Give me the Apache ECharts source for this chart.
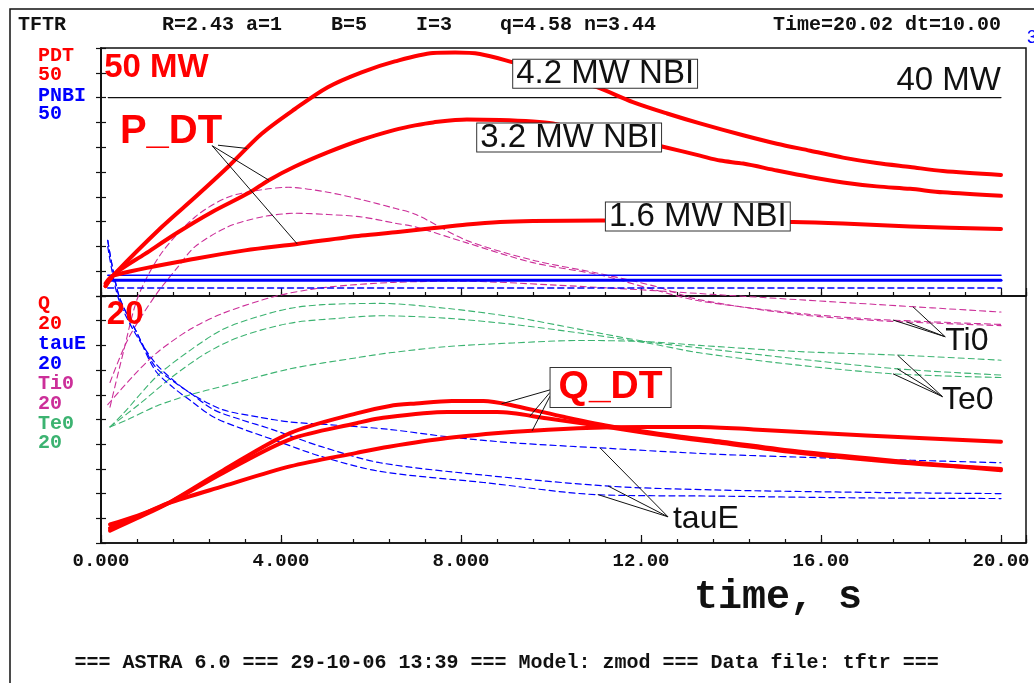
<!DOCTYPE html>
<html>
<head>
<meta charset="utf-8">
<script src="https://cdn.jsdelivr.net/npm/echarts@6/dist/echarts.min.js"></script>
<style>
  html, body { margin: 0; padding: 0; background: #ffffff; }
  #c { width: 1034px; height: 683px; }
</style>
</head>
<body>
<div id="c"></div>
<script>
// ---- time axis ----
const timeTickLabels = [0, 4, 8, 12, 16, 20];

// ---- upper panel (scale 50 MW): fusion power for the three NBI powers ----
const pdt42 = [[0.1,2.0],[0.31,4.5],[1.35,13.9],[2.09,19.9],[2.82,26.0],[3.57,32.7],[4.31,37.7],[5.04,42.1],[5.79,45.1],[6.53,47.3],[7.38,49.0],[7.87,49.1],[8.42,48.8],[9.16,47.1],[10.1,44.7],[11.02,42.1],[11.82,39.1],[12.58,36.8],[13.31,34.8],[14.27,32.4],[15.02,30.7],[15.76,29.3],[16.49,27.9],[17.24,26.8],[17.98,26.0],[18.71,25.2],[20,24.4]];
const pdt32 = [[0.1,2.0],[0.31,4.5],[0.98,8.5],[1.72,12.9],[2.46,16.9],[3.31,20.9],[3.72,23.3],[4.31,26.1],[5.05,29.0],[5.79,31.5],[6.53,33.5],[6.98,34.4],[7.38,35.0],[8.13,35.6],[8.87,35.5],[9.6,35.2],[10.04,34.8],[11.0,33.0],[12.0,31.2],[12.49,30.1],[13.31,28.3],[13.76,27.3],[14.27,26.7],[15.02,25.3],[15.76,24.0],[16.49,22.9],[17.24,22.1],[17.98,21.6],[18.71,20.9],[20,20.2]];
const pdt16 = [[0.1,2.5],[0.27,4.1],[2.09,7.5],[3.2,9.2],[4.36,10.5],[5.79,12.2],[6.6,12.9],[7.4,13.7],[8.13,14.4],[8.87,14.9],[9.6,15.1],[11.09,15.2],[13.0,15.1],[15.38,14.9],[16.49,14.6],[17.98,14.0],[20,13.5]];
// injected beam power (MW)
const pnbi42 = [[0.15,4.2],[20,4.2]];
const pnbi32 = [[0.15,3.2],[20,3.2]];
const pnbi16 = [[0.15,1.6],[20,1.6]];
const level40 = [[0.16,40],[20,40]];

// ---- lower panel (scale 20): Q, tauE, Ti0, Te0 ----
const q42 = [[0.2,1.0],[0.8,2.0],[1.48,3.2],[2.72,5.9],[4.2,8.9],[5.68,10.5],[6.42,11.1],[7.0,11.3],[7.8,11.5],[8.5,11.5],[9.2,11.1],[10.3,10.2],[11.4,9.4],[12.9,8.6],[13.8,8.2],[15.5,7.4],[17.8,6.6],[20,5.9]];
const q32 = [[0.2,1.5],[0.8,2.2],[1.48,3.2],[2.72,5.7],[4.2,8.4],[5.68,9.7],[6.2,10.1],[7.7,10.6],[8.8,10.6],[9.9,10.1],[11.4,9.3],[12.9,8.5],[13.8,8.1],[15.5,7.3],[17.8,6.5],[20,6.0]];
const q16 = [[0.2,1.2],[0.8,2.1],[1.48,3.2],[2.72,4.6],[4.2,6.2],[5.68,7.3],[6.4,7.8],[7.7,8.5],[9.2,9.0],[10.6,9.3],[12.1,9.4],[13.3,9.4],[14.5,9.2],[17.0,8.7],[20,8.2]];

const tauE1 = [[0.15,24.0],[0.37,20.0],[0.71,17.3],[1.2,14.6],[1.6,13.2],[2.0,12.1],[2.7,10.8],[3.5,10.2],[4.2,9.8],[5.0,9.6],[6.4,9.2],[7.7,8.6],[9.2,8.1],[11.1,7.7],[13.6,7.2],[16.0,6.9],[18.0,6.7],[20,6.5]];
const tauE2 = [[0.15,24.5],[0.4,20.0],[0.8,17.0],[1.2,14.3],[1.6,13.1],[2.0,12.1],[2.5,10.8],[3.1,10.0],[3.8,9.2],[4.9,7.8],[6.2,6.5],[8.5,5.5],[11.3,4.6],[13.6,4.3],[17.0,4.1],[20,4.0]];
const tauE3 = [[0.15,24.5],[0.4,20.0],[0.8,17.0],[1.2,14.0],[1.6,12.6],[2.0,11.5],[2.5,10.2],[3.1,9.3],[3.8,8.4],[4.9,7.0],[6.2,5.8],[8.5,4.9],[11.1,3.9],[13.6,3.8],[17.0,3.65],[20,3.6]];

const ti0a = [[0.2,11.0],[0.5,15.5],[0.83,20.0],[1.35,23.5],[2.09,26.4],[2.82,28.0],[3.57,28.6],[4.16,28.8],[5.04,28.4],[5.79,27.8],[6.53,27.1],[7.0,26.6],[8.13,24.5],[9.6,22.9],[11.1,21.8],[12.3,20.8],[13.3,19.7],[15.5,18.5],[17.3,18.0],[20,17.6]];
const ti0b = [[0.2,13.0],[0.6,16.5],[1.2,20.0],[1.72,22.4],[2.09,24.0],[2.82,25.6],[3.57,26.4],[4.31,26.7],[5.04,26.6],[5.79,26.4],[6.53,25.9],[6.98,25.6],[8.13,24.3],[9.6,22.7],[11.09,21.7],[12.2,20.6],[13.3,19.6],[15.5,18.6],[17.3,18.1],[20,17.7]];
const ti0c = [[0.15,11.2],[0.71,13.5],[1.24,15.4],[1.98,17.3],[2.71,18.6],[3.9,20.0],[5.0,20.7],[6.5,21.1],[8.0,21.2],[10.0,20.9],[12.0,20.5],[13.3,20.2],[15.5,19.7],[17.3,19.3],[20,18.7]];

const te0a = [[0.2,9.4],[0.5,10.5],[1.24,13.5],[1.98,15.6],[2.71,17.3],[3.46,18.3],[4.2,19.0],[4.93,19.3],[6.2,19.4],[7.68,19.0],[9.16,18.3],[10.64,17.3],[12.13,16.3],[13.3,15.8],[15.5,14.9],[17.7,14.1],[20,13.6]];
const te0b = [[0.2,9.4],[0.87,11.3],[1.6,13.5],[2.35,15.4],[3.09,16.7],[4.2,17.8],[5.31,18.2],[6.2,18.4],[7.68,18.2],[9.16,17.7],[10.64,17.0],[12.13,16.2],[13.3,15.4],[15.5,14.4],[17.6,13.7],[20,13.4]];
const te0c = [[0.2,9.4],[0.6,10.0],[1.24,11.1],[1.98,12.0],[2.71,12.7],[4.2,14.1],[5.68,15.0],[6.42,15.4],[7.68,15.9],[9.16,16.2],[10.64,16.4],[12.13,16.3],[13.3,16.0],[15.5,15.5],[17.8,15.2],[20,14.8]];

// ---- colours and fonts ----
const RED = '#ff0000', BLUE = '#0000ff', MAG = '#cc2f99', GRN = '#3cb371', INK = '#111111';
const MONO = '"Liberation Mono", "DejaVu Sans Mono", monospace';
const SANS = '"Liberation Sans", Arial, sans-serif';
const DASH = [6, 4];

const chart = echarts.init(document.getElementById('c'), null, { renderer: 'canvas' });

const XMAX = 925 / 45;   // plot box runs a little past 20 s
const TOP = { xAxisIndex: 1, yAxisIndex: 0 };
const BOT = { xAxisIndex: 3, yAxisIndex: 2 };

function xAxes(gridIndex, labelled) {
  const base = { type: 'value', gridIndex, position: 'bottom', min: 0, max: XMAX, splitLine: { show: false } };
  return [
    Object.assign({}, base, {
      interval: 0.8,
      axisLine: { show: false },
      axisTick: { inside: true, length: 4, lineStyle: { color: INK, width: 1.2 } },
      axisLabel: { show: false }
    }),
    Object.assign({}, base, {
      interval: 4,
      axisLine: { show: true, lineStyle: { color: INK, width: 1.5 } },
      axisTick: { inside: true, length: 8, lineStyle: { color: INK, width: 1.2 } },
      axisLabel: {
        show: labelled, margin: 9, color: INK,
        fontFamily: MONO, fontWeight: 'bold', fontSize: 19,
        formatter: v => {
          if (!timeTickLabels.some(t => Math.abs(t - v) < 1e-6)) return '';
          return v < 10 ? v.toFixed(3) : v.toFixed(2);
        }
      }
    })
  ];
}
function yAxes(gridIndex, max, interval) {
  const base = {
    type: 'value', gridIndex, min: 0, max, interval,
    splitLine: { show: false }, axisLabel: { show: false },
    axisLine: { show: true, lineStyle: { color: INK, width: 1.5 } },
    axisTick: { inside: true, length: 5, lineStyle: { color: INK, width: 1.2 } }
  };
  return [Object.assign({ position: 'left' }, base), Object.assign({ position: 'right' }, base)];
}

function line(data, panel, color, width, dashed, z) {
  const ax = panel === 0 ? TOP : BOT;
  return {
    type: 'line', data, xAxisIndex: ax.xAxisIndex, yAxisIndex: ax.yAxisIndex,
    smooth: 0.3, symbol: 'none', clip: false, silent: true, z: z || 2,
    lineStyle: { color, width, type: dashed ? DASH : 'solid', cap: 'round', join: 'round' }
  };
}

chart.setOption({
  animation: false,
  backgroundColor: '#ffffff',
  grid: [
    { left: 101, top: 48, width: 925, height: 248, show: true, borderColor: INK, borderWidth: 1.5 },
    { left: 101, top: 296, width: 925, height: 247, show: true, borderColor: INK, borderWidth: 1.5 }
  ],
  xAxis: xAxes(0, false).concat(xAxes(1, true)),
  yAxis: yAxes(0, 50, 5).concat(yAxes(1, 20, 2)),
  series: [
    line(ti0a, 1, MAG, 1.1, true), line(ti0b, 1, MAG, 1.1, true), line(ti0c, 1, MAG, 1.1, true),
    line(te0a, 1, GRN, 1.1, true), line(te0b, 1, GRN, 1.1, true), line(te0c, 1, GRN, 1.1, true),
    line(tauE1, 1, BLUE, 1.2, true), line(tauE2, 1, BLUE, 1.2, true), line(tauE3, 1, BLUE, 1.2, true),
    line(pnbi42, 0, BLUE, 1.5, false), line(pnbi32, 0, BLUE, 3, false), line(pnbi16, 0, BLUE, 1.5, true),
    line(level40, 0, INK, 1.2, false),
    line(pdt42, 0, RED, 4, false, 3), line(pdt32, 0, RED, 4, false, 3), line(pdt16, 0, RED, 4, false, 3),
    line(q42, 1, RED, 4, false, 3), line(q32, 1, RED, 4, false, 3), line(q16, 1, RED, 4, false, 3)
  ]
});

// ---- annotations placed in data coordinates of their panel ----
function at(series, t) {
  for (let i = 1; i < series.length; i++) {
    const a = series[i - 1], b = series[i];
    if (t <= b[0]) return a[1] + (b[1] - a[1]) * (t - a[0]) / (b[0] - a[0]);
  }
  return series[series.length - 1][1];
}
function px(panel, t, v) { return chart.convertToPixel(panel === 0 ? TOP : BOT, [t, v]); }

const labels = [
  { text: '50 MW', panel: 0, t: 0.07, v: 45.9, font: 'bold 33px ' + SANS, fill: RED },
  { text: 'P_DT', panel: 0, t: 0.42, v: 33.0, font: 'bold 40px ' + SANS, fill: RED },
  { text: '40 MW', panel: 0, t: 20.0, v: 43.4, font: '33px ' + SANS, fill: INK, align: 'right' },
  { text: '4.2 MW NBI', panel: 0, t: 9.16, v: 44.8, font: '33px ' + SANS, fill: INK, box: true },
  { text: '3.2 MW NBI', panel: 0, t: 8.36, v: 31.96, font: '33px ' + SANS, fill: INK, box: true },
  { text: '1.6 MW NBI', panel: 0, t: 11.22, v: 16.03, font: '33px ' + SANS, fill: INK, box: true },
  { text: '20', panel: 1, t: 0.13, v: 18.5, font: 'bold 33px ' + SANS, fill: RED },
  { text: 'Q_DT', panel: 1, t: 9.99, v: 12.6, font: 'bold 39px ' + SANS, fill: RED, box: true, padX: 8 },
  { text: 'Ti0', panel: 1, t: 18.76, v: 16.37, font: '32px ' + SANS, fill: INK },
  { text: 'Te0', panel: 1, t: 18.69, v: 11.6, font: '32px ' + SANS, fill: INK },
  { text: 'tauE', panel: 1, t: 12.71, v: 1.89, font: '32px ' + SANS, fill: INK }
];
const leaders = [
  { panel: 0, from: [2.6, 30.4], series: pdt42, t: 3.24 },
  { panel: 0, from: [2.47, 30.3], series: pdt32, t: 3.73 },
  { panel: 0, from: [2.47, 30.3], series: pdt16, t: 4.36 },
  { panel: 1, from: [9.98, 12.4], series: q42, t: 8.9 },
  { panel: 1, from: [9.98, 12.2], series: q32, t: 9.53 },
  { panel: 1, from: [9.98, 11.9], series: q16, t: 9.58 },
  { panel: 1, from: [12.6, 2.12], series: tauE1, t: 11.09 },
  { panel: 1, from: [12.6, 2.12], series: tauE2, t: 11.27 },
  { panel: 1, from: [12.6, 2.12], series: tauE3, t: 11.04 },
  { panel: 1, from: [18.76, 16.7], series: ti0c, t: 18.04 },
  { panel: 1, from: [18.76, 16.7], series: ti0a, t: 17.9 },
  { panel: 1, from: [18.76, 16.7], series: ti0b, t: 17.6 },
  { panel: 1, from: [18.7, 11.85], series: te0c, t: 17.7 },
  { panel: 1, from: [18.7, 11.85], series: te0a, t: 17.7 },
  { panel: 1, from: [18.7, 11.85], series: te0b, t: 17.6 }
];

const g = [];
// outer frame of the page
g.push({ type: 'polyline', z: 50, shape: { points: [[10, 683], [10, 9], [1034, 9]] }, style: { stroke: INK, lineWidth: 1.5, fill: null } });
// run header
const header = [
  ['TFTR', 18], ['R=2.43 a=1', 162], ['B=5', 331], ['I=3', 416], ['q=4.58 n=3.44', 500], ['Time=20.02 dt=10.00', 773]
];
header.forEach(h => g.push({ type: 'text', z: 50, x: h[1], y: 25, style: { text: h[0], font: 'bold 20px ' + MONO, fill: INK, align: 'left', verticalAlign: 'middle', textAlign: 'left', textVerticalAlign: 'middle' } }));
g.push({ type: 'text', z: 50, x: 1027, y: 38, style: { text: '3', font: '18px ' + SANS, fill: BLUE, align: 'left', verticalAlign: 'middle', textAlign: 'left', textVerticalAlign: 'middle' } });
// curve names and full-scale values
const legendRows = [
  ['PDT', RED, 56], ['50', RED, 75], ['PNBI', BLUE, 96], ['50', BLUE, 114],
  ['Q', RED, 304], ['20', RED, 323.5], ['tauE', BLUE, 343.5], ['20', BLUE, 363.5],
  ['Ti0', MAG, 384], ['20', MAG, 403.5], ['Te0', GRN, 423.5], ['20', GRN, 443]
];
legendRows.forEach(r => g.push({ type: 'text', z: 50, x: 38, y: r[2], style: { text: r[0], font: 'bold 20px ' + MONO, fill: r[1], align: 'left', verticalAlign: 'middle', textAlign: 'left', textVerticalAlign: 'middle' } }));
// axis title and footer
g.push({ type: 'text', z: 50, x: 778, y: 598, style: { text: 'time, s', font: 'bold 40px ' + MONO, fill: INK, align: 'center', verticalAlign: 'middle', textAlign: 'center', textVerticalAlign: 'middle' } });
g.push({ type: 'text', z: 50, x: 74.5, y: 663, style: { text: '=== ASTRA 6.0 === 29-10-06 13:39 === Model: zmod === Data file: tftr ===', font: 'bold 20px ' + MONO, fill: INK, align: 'left', verticalAlign: 'middle', textAlign: 'left', textVerticalAlign: 'middle' } });

leaders.forEach(l => {
  const p0 = px(l.panel, l.from[0], l.from[1]);
  const p1 = px(l.panel, l.t, at(l.series, l.t));
  g.push({ type: 'line', z: 60, shape: { x1: p0[0], y1: p0[1], x2: p1[0], y2: p1[1] }, style: { stroke: INK, lineWidth: 1 } });
});
labels.forEach(l => {
  const p = px(l.panel, l.t, l.v);
  const style = { text: l.text, font: l.font, fill: l.fill, align: l.align || 'left', verticalAlign: 'middle', textAlign: l.align || 'left', textVerticalAlign: 'middle' };
  if (l.box) {
    const padX = l.padX || 3;
    Object.assign(style, { backgroundColor: '#ffffff', borderColor: '#333333', borderWidth: 1, padding: [1, padX, 0, padX], lineHeight: l.padX ? 38 : 27 });
  }
  g.push({ type: 'text', z: 70, x: p[0], y: p[1], style });
});

chart.setOption({ graphic: { elements: g } });
</script>
</body>
</html>
